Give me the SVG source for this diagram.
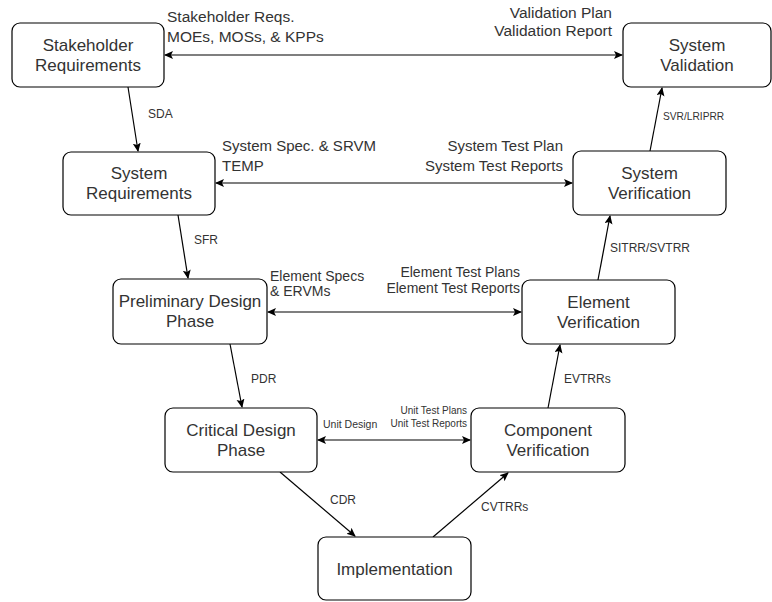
<svg xmlns="http://www.w3.org/2000/svg" width="772" height="602" viewBox="0 0 772 602">
<defs>
<marker id="arr" markerWidth="10" markerHeight="10" refX="8" refY="4" orient="auto" markerUnits="userSpaceOnUse">
<path d="M0,0 L9,4 L0,8 L2,4 Z" fill="#000"/>
</marker>
<marker id="arrs" markerWidth="10" markerHeight="10" refX="1" refY="4" orient="auto" markerUnits="userSpaceOnUse">
<path d="M9,0 L0,4 L9,8 L7,4 Z" fill="#000"/>
</marker>
<style>
.box{fill:#fff;stroke:#000;stroke-width:1.2}
.nt{font-family:"Liberation Sans",Arial,sans-serif;font-size:17px;fill:#333;text-anchor:middle}
.lb{font-family:"Liberation Sans",Arial,sans-serif;fill:#333}
.c{stroke:#000;stroke-width:1.2;fill:none}
.one{marker-end:url(#arr)}
.two{marker-end:url(#arr);marker-start:url(#arrs)}
</style>
</defs>
<rect width="772" height="602" fill="#fff"/>
<g id="connectors">
<line class="c two" x1="165" y1="55" x2="622" y2="55"/>
<line class="c two" x1="216" y1="183" x2="572" y2="183"/>
<line class="c two" x1="268" y1="312" x2="521" y2="312"/>
<line class="c two" x1="318" y1="440" x2="470" y2="440"/>
<line class="c one" x1="128" y1="87" x2="138" y2="151"/>
<line class="c one" x1="178" y1="215" x2="188" y2="278"/>
<line class="c one" x1="230" y1="344" x2="242" y2="407"/>
<line class="c one" x1="280" y1="472" x2="355" y2="536"/>
<line class="c one" x1="433" y1="537" x2="508" y2="473"/>
<line class="c one" x1="548" y1="408" x2="560" y2="345"/>
<line class="c one" x1="598" y1="280" x2="610" y2="216"/>
<line class="c one" x1="650" y1="151" x2="662" y2="88"/>
</g>
<g id="edge-labels">
<text class="lb" font-size="15.5" x="167" y="22">Stakeholder Reqs.</text>
<text class="lb" font-size="15.5" x="167" y="41.5">MOEs, MOSs, &amp; KPPs</text>
<text class="lb" font-size="15.5" x="612" y="18" text-anchor="end">Validation Plan</text>
<text class="lb" font-size="15.5" x="612" y="36" text-anchor="end">Validation Report</text>
<text class="lb" font-size="15" x="222" y="151">System Spec. &amp; SRVM</text>
<text class="lb" font-size="15" x="222" y="170.5">TEMP</text>
<text class="lb" font-size="15" x="563" y="151" text-anchor="end">System Test Plan</text>
<text class="lb" font-size="15" x="563" y="170.5" text-anchor="end">System Test Reports</text>
<text class="lb" font-size="14" x="270" y="281">Element Specs</text>
<text class="lb" font-size="14" x="270" y="296">&amp; ERVMs</text>
<text class="lb" font-size="14" x="520" y="277" text-anchor="end">Element Test Plans</text>
<text class="lb" font-size="14" x="520" y="292.5" text-anchor="end">Element Test Reports</text>
<text class="lb" font-size="10.5" x="323" y="428">Unit Design</text>
<text class="lb" font-size="10" x="467" y="414" text-anchor="end">Unit Test Plans</text>
<text class="lb" font-size="10" x="467" y="426.5" text-anchor="end">Unit Test Reports</text>
<text class="lb" font-size="12" x="148" y="118">SDA</text>
<text class="lb" font-size="12" x="194" y="244">SFR</text>
<text class="lb" font-size="12" x="251" y="383">PDR</text>
<text class="lb" font-size="12" x="330" y="504">CDR</text>
<text class="lb" font-size="12" x="481" y="511">CVTRRs</text>
<text class="lb" font-size="12" x="564" y="383">EVTRRs</text>
<text class="lb" font-size="12" x="610" y="251.5">SITRR/SVTRR</text>
<text class="lb" font-size="10.2" x="663" y="120">SVR/LRIPRR</text>
</g>
<g id="stakeholder-requirements">
<rect class="box" x="12" y="23" width="152" height="64" rx="8"/>
<text class="nt" x="88" y="51">Stakeholder</text>
<text class="nt" x="88" y="71">Requirements</text>
</g>
<g id="system-validation">
<rect class="box" x="623" y="23" width="148" height="64" rx="8"/>
<text class="nt" x="697" y="51">System</text>
<text class="nt" x="697" y="71">Validation</text>
</g>
<g id="system-requirements">
<rect class="box" x="63" y="152" width="152" height="63" rx="8"/>
<text class="nt" x="139" y="179">System</text>
<text class="nt" x="139" y="199">Requirements</text>
</g>
<g id="system-verification">
<rect class="box" x="573" y="151" width="153" height="64" rx="8"/>
<text class="nt" x="649.5" y="179">System</text>
<text class="nt" x="649.5" y="199">Verification</text>
</g>
<g id="preliminary-design-phase">
<rect class="box" x="113" y="279" width="154" height="65" rx="8"/>
<text class="nt" x="190" y="307" font-size="16.3">Preliminary Design</text>
<text class="nt" x="190" y="327">Phase</text>
</g>
<g id="element-verification">
<rect class="box" x="522" y="280" width="153" height="64" rx="8"/>
<text class="nt" x="598.5" y="308">Element</text>
<text class="nt" x="598.5" y="328">Verification</text>
</g>
<g id="critical-design-phase">
<rect class="box" x="165" y="408" width="152" height="64" rx="8"/>
<text class="nt" x="241" y="436">Critical Design</text>
<text class="nt" x="241" y="456">Phase</text>
</g>
<g id="component-verification">
<rect class="box" x="471" y="408" width="154" height="64" rx="8"/>
<text class="nt" x="548" y="436">Component</text>
<text class="nt" x="548" y="456">Verification</text>
</g>
<g id="implementation">
<rect class="box" x="318" y="537" width="153" height="63" rx="8"/>
<text class="nt" x="394.5" y="574.5">Implementation</text>
</g>
</svg>
